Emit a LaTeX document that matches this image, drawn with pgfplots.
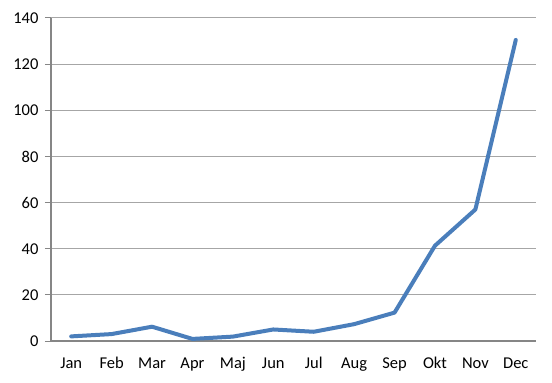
\documentclass[border=0pt]{standalone}
\usepackage{pgfplots}
\pgfplotsset{compat=1.18}
\usepackage{fontspec}
\setmainfont{Carlito}
\definecolor{lineblue}{HTML}{4A7EBB}
\definecolor{gridgray}{HTML}{A6A6A6}
\definecolor{axisgray}{HTML}{868686}
\begin{document}
\begin{tikzpicture}
\useasboundingbox (-51pt,-42pt) rectangle (501pt,341pt);
\begin{axis}[
  at={(0pt,0pt)}, anchor=south west,
  scale only axis, width=485pt, height=323pt,
  xmin=0.5, xmax=12.5, ymin=0, ymax=140,
  axis x line*=bottom, axis y line*=left,
  axis line style={axisgray, line width=1.6pt, -},
  xtick={1,...,12},
  xticklabels={Jan,Feb,Mar,Apr,Maj,Jun,Jul,Aug,Sep,Okt,Nov,Dec},
  minor xtick={0.5,1.5,...,12.5},
  ytick={0,20,...,140},
  ymajorgrids,
  major grid style={gridgray, line width=1pt},
  tick align=outside,
  x tick style={draw=none},
  minor x tick style={axisgray, line width=1pt},
  minor tick length=6pt,
  y tick style={axisgray, line width=1pt},
  major tick length=6pt,
  tick label style={font=\fontsize{16.5}{19}\selectfont, black},
  xticklabel style={yshift=-7pt},
  yticklabel style={xshift=-3pt},
  /pgf/number format/assume math mode=true,
  clip=false,
]
\addplot[lineblue, line width=4pt, line join=round, line cap=round] coordinates {
(1,2) (2,3) (3,6.2) (4,0.9) (5,1.9) (6,5) (7,4) (8,7.3) (9,12.3) (10,41.3) (11,57) (12,130.5)
};
\end{axis}
\end{tikzpicture}
\end{document}
